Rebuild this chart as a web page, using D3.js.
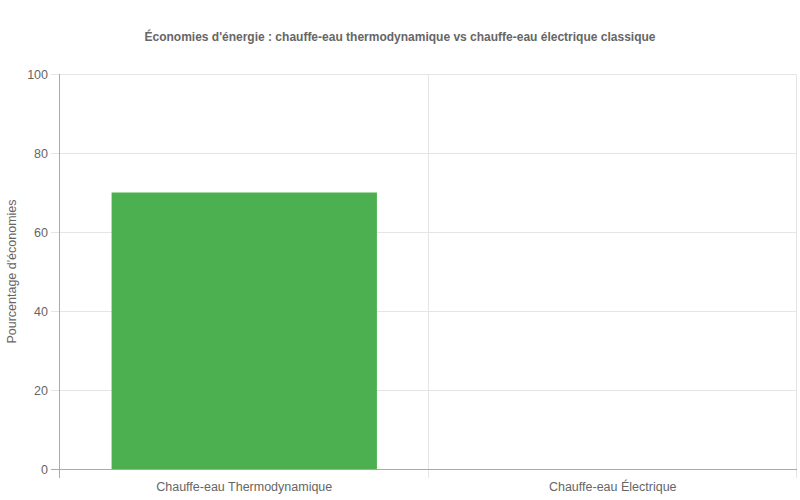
<!DOCTYPE html>
<html>
<head>
<meta charset="utf-8">
<script src="https://cdn.jsdelivr.net/npm/d3@7"></script>
<style>
  body { margin: 0; background: #fff; }
  text { font-family: "Liberation Sans", Arial, sans-serif; }
</style>
</head>
<body>
<svg id="chart" width="800" height="500"></svg>
<script>
// chart data
const categories = ["Chauffe-eau Thermodynamique", "Chauffe-eau Électrique"];
const savings = [70, 0];
const yTicks = [0, 20, 40, 60, 80, 100];
const title = "Économies d'énergie : chauffe-eau thermodynamique vs chauffe-eau électrique classique";
const yLabel = "Pourcentage d'économies";

const svg = d3.select('#chart');
const margin = { top: 74, right: 3, bottom: 31, left: 60 };
const width = 800 - margin.left - margin.right;
const height = 500 - margin.top - margin.bottom;

// title
svg.append('text')
    .attr('x', 400).attr('y', 41)
    .attr('text-anchor', 'middle')
    .attr('font-size', 12).attr('font-weight', 'bold')
    .attr('fill', '#666')
    .text(title);

// y axis label
svg.append('text')
    .attr('transform', `translate(16,${margin.top + height / 2}) rotate(-90)`)
    .attr('text-anchor', 'middle')
    .attr('font-size', 12.5)
    .attr('fill', '#666')
    .text(yLabel);

const g = svg.append('g').attr('transform', `translate(${margin.left},${margin.top})`);

// scales
const x = d3.scaleBand().domain(categories).range([0, width]).paddingInner(0).paddingOuter(0);
const y = d3.scaleLinear().domain([0, 100]).range([height, 0]);

// horizontal grid
g.append('g').selectAll('line').data(yTicks).join('line')
    .attr('x1', -9).attr('x2', width)
    .attr('y1', d => y(d) + 0.5).attr('y2', d => y(d) + 0.5)
    .attr('stroke', '#e5e5e5');

// vertical grid at category boundaries
const bounds = categories.map(c => x(c)).concat([width]);
g.append('g').selectAll('line').data(bounds).join('line')
    .attr('x1', d => Math.round(d) - 0.5).attr('x2', d => Math.round(d) - 0.5)
    .attr('y1', 0).attr('y2', height + 9)
    .attr('stroke', '#e5e5e5');

// bars
const barW = x.bandwidth() * 0.72;
g.append('g').selectAll('rect').data(savings).join('rect')
    .attr('x', (d, i) => x(categories[i]) + (x.bandwidth() - barW) / 2)
    .attr('y', d => y(d))
    .attr('width', barW)
    .attr('height', d => height - y(d))
    .attr('fill', '#4caf50');

// y axis
const yAxis = g.append('g')
    .call(d3.axisLeft(y).tickValues(yTicks).tickSize(0).tickPadding(12));
yAxis.select('.domain').remove();
yAxis.selectAll('text').attr('font-size', 12.5).attr('fill', '#666')
    .style('font-family', '"Liberation Sans", Arial, sans-serif');

// x axis
const xAxis = g.append('g').attr('transform', `translate(0,${height})`)
    .call(d3.axisBottom(x).tickSize(0).tickPadding(13));
xAxis.select('.domain').remove();
xAxis.selectAll('text').attr('font-size', 12.5).attr('fill', '#666')
    .style('font-family', '"Liberation Sans", Arial, sans-serif');

// axis borders
g.append('line').attr('x1', -0.5).attr('x2', -0.5).attr('y1', 0).attr('y2', height + 9)
    .attr('stroke', '#aaa');
g.append('line').attr('x1', -9).attr('x2', width).attr('y1', height + 0.5).attr('y2', height + 0.5)
    .attr('stroke', '#aaa');
</script>
</body>
</html>
